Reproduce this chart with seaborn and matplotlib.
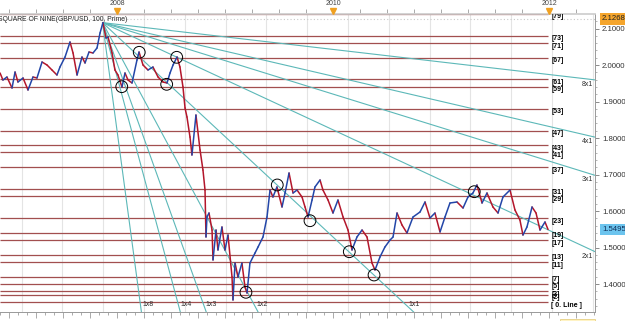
import numpy as np
import pandas as pd
import matplotlib
matplotlib.use("Agg")
import matplotlib.pyplot as plt
import matplotlib.transforms as mtransforms
from matplotlib.patches import Rectangle
import seaborn as sns

# ---------------- data ----------------
years = [2006.917, 2006.944, 2006.981, 2007.028, 2007.056, 2007.083, 2007.130, 2007.176,
         2007.222, 2007.259, 2007.306, 2007.352, 2007.398, 2007.444, 2007.472, 2007.519,
         2007.565, 2007.593, 2007.630, 2007.676, 2007.704, 2007.741, 2007.778, 2007.815,
         2007.843, 2007.870, 2007.898, 2007.917, 2007.954, 2007.981, 2008.009, 2008.046,
         2008.074, 2008.102, 2008.139, 2008.185, 2008.204, 2008.241, 2008.287, 2008.333,
         2008.380, 2008.426, 2008.463, 2008.491, 2008.519, 2008.556, 2008.583, 2008.611,
         2008.630, 2008.648, 2008.676, 2008.694, 2008.731, 2008.769, 2008.796, 2008.815,
         2008.824, 2008.833, 2008.852, 2008.880, 2008.889, 2008.917, 2008.935, 2008.972,
         2009.000, 2009.028, 2009.065, 2009.074, 2009.093, 2009.120, 2009.157, 2009.185,
         2009.204, 2009.231, 2009.278, 2009.306, 2009.352, 2009.389, 2009.417, 2009.444,
         2009.481, 2009.528, 2009.556, 2009.593, 2009.630, 2009.667, 2009.713, 2009.741,
         2009.769, 2009.806, 2009.833, 2009.880, 2009.907, 2009.954, 2010.000, 2010.046,
         2010.093, 2010.139, 2010.176, 2010.222, 2010.269, 2010.315, 2010.361, 2010.389,
         2010.435, 2010.481, 2010.528, 2010.556, 2010.593, 2010.639, 2010.685, 2010.741,
         2010.806, 2010.852, 2010.898, 2010.944, 2010.991, 2011.037, 2011.083, 2011.148,
         2011.204, 2011.250, 2011.296, 2011.333, 2011.380, 2011.426, 2011.481, 2011.528,
         2011.574, 2011.639, 2011.685, 2011.731, 2011.759, 2011.796, 2011.843, 2011.880,
         2011.917, 2011.963, 2011.991]
prices = [1.9781, 1.9589, 1.9671, 1.9370, 1.9808, 1.9534, 1.9644, 1.9315,
          1.9671, 1.9644, 2.0082, 2.0000, 1.9863, 1.9726, 1.9945, 2.0219,
          2.0630, 2.0329, 1.9726, 2.0219, 2.0055, 2.0356, 2.0329, 2.0466,
          2.0877, 2.1161, 2.0740, 2.0767, 2.0329, 1.9863, 1.9726, 1.9397,
          1.9781, 1.9589, 1.9507, 2.0137, 2.0356, 2.0000, 1.9863, 1.9945,
          1.9671, 1.9534, 1.9507, 1.9781, 2.0000, 2.0219, 1.9945, 1.9397,
          1.8822, 1.8575, 1.8027, 1.7534, 1.8630, 1.7671, 1.7123, 1.6575,
          1.5288, 1.5836, 1.5945, 1.5479, 1.4658, 1.5479, 1.4932, 1.5562,
          1.4932, 1.5342, 1.4192, 1.3562, 1.4575, 1.4192, 1.4575, 1.3918,
          1.3753, 1.4575, 1.4849, 1.5014, 1.5288, 1.5836, 1.6575, 1.6384,
          1.6658, 1.6110, 1.6493, 1.7041, 1.6493, 1.6575, 1.6384, 1.6110,
          1.5836, 1.6301, 1.6658, 1.6849, 1.6575, 1.6301, 1.5945, 1.6301,
          1.5836, 1.5479, 1.4932, 1.5288, 1.5479, 1.5288, 1.4575, 1.4384,
          1.4740, 1.5014, 1.5205, 1.5288, 1.5945, 1.5616, 1.5397, 1.5836,
          1.5973, 1.6247, 1.5808, 1.5945, 1.5425, 1.5836, 1.6219, 1.6247,
          1.6082, 1.6384, 1.6493, 1.6712, 1.6219, 1.6493, 1.6110, 1.5945,
          1.6384, 1.6575, 1.6027, 1.5753, 1.5342, 1.5562, 1.6110, 1.5945,
          1.5479, 1.5699, 1.5495]

level_numbers = [0, 2, 3, 5, 7, 11, 13, 17, 19, 23, 29, 31, 37, 41, 43, 47,
                 53, 59, 61, 67, 71, 73, 79]
level_base = 1.3503
level_step = 0.01

fan_labels = ["8x1", "4x1", "3x1", "2x1", "1x1", "1x2", "1x3", "1x4", "1x8"]
fan_ratios = [1 / 8, 1 / 4, 1 / 3, 1 / 2, 1, 2, 3, 4, 8]
fan_origin_year = 2007.866
fan_origin_price = 2.1161
fan_unit_slope = 0.2752  # price per year for the 1x1 line

circle_years = [2008.206, 2008.044, 2008.553, 2008.460, 2009.484,
                2009.787, 2010.151, 2010.380, 2009.194, 2011.308]
circle_prices = [2.0348, 1.9406, 2.0211, 1.9471, 1.6713,
                 1.5734, 1.4885, 1.4247, 1.3773, 1.6529]

axis_high = 2.1268
last_price = 1.5495
year_ticks = [2008, 2010, 2012]
price_ticks = [1.4, 1.5, 1.6, 1.7, 1.8, 1.9, 2.0, 2.1]
title = "SQUARE OF NINE(GBP/USD, 100, Prime)"

# ---------------- styling ----------------
sns.set_theme(style="white")
plt.rcParams["font.family"] = ["Liberation Sans", "DejaVu Sans"]

W, H = 625, 321
fig = plt.figure(figsize=(W / 100, H / 100), dpi=100)
ax_top_px, ax_bot_px, ax_right_px = 13.5, 312, 595
ax = fig.add_axes([0, 1 - ax_bot_px / H, ax_right_px / W, (ax_bot_px - ax_top_px) / H])
ax.set_facecolor("white")

XMIN, XMAX = 2006.9167, 2012.426
YMIN, YMAX = 1.3233, 2.1411
ax.set_xlim(XMIN, XMAX)
ax.set_ylim(YMIN, YMAX)

# vertical grid (every ~100 bars)
for gx in np.arange(2007.116, XMAX, 0.3778):
    ax.axvline(gx, color="#e4e4e4", lw=0.8, zorder=0)

# dotted line at axis high
ax.axhline(axis_high, color="#c8c8c8", lw=0.8, ls=(0, (1, 2)), zorder=0)

# square-of-nine horizontal levels
levels = [level_base + n * level_step for n in level_numbers]
ax.hlines(levels, XMIN, years[-1], colors="#a24f4f", lw=0.9, zorder=1)
lab_off = mtransforms.ScaledTranslation(2.5 / 72, 0.3 / 72, fig.dpi_scale_trans)
for n, lv in zip(level_numbers, levels):
    txt = "[ 0. Line ]" if n == 0 else f"[{n}]"
    ax.text(years[-1], lv, txt, transform=ax.transData + lab_off, ha="left", va="top",
            fontsize=5.0, fontweight="bold", color="black", clip_on=True, zorder=6)

# Gann fan
bottom_label_price = 1.3425
for lab, r in zip(fan_labels, fan_ratios):
    slope = fan_unit_slope * r
    ye = fan_origin_price - slope * (XMAX - fan_origin_year)
    ax.plot([fan_origin_year, XMAX], [fan_origin_price, ye], color="#5cb8b8", lw=0.8, zorder=2)
    if r < 1:
        off = mtransforms.ScaledTranslation(-1.2 / 72, -0.8 / 72, fig.dpi_scale_trans)
        ax.text(XMAX, ye, lab, transform=ax.transData + off, ha="right", va="top",
                fontsize=5, color="#333333", zorder=6)
    else:
        xc = fan_origin_year + (fan_origin_price - bottom_label_price) / slope
        off = mtransforms.ScaledTranslation(1.5 / 72, 0, fig.dpi_scale_trans)
        ax.text(xc, bottom_label_price, lab, transform=ax.transData + off, ha="left",
                va="center", fontsize=5, color="#333333", zorder=6)

# price line, coloured by direction (up = blue, down = red)
rows = []
for i in range(len(years) - 1):
    d = "up" if prices[i + 1] >= prices[i] else "down"
    rows.append((i, years[i], prices[i], d))
    rows.append((i, years[i + 1], prices[i + 1], d))
seg = pd.DataFrame(rows, columns=["seg", "year", "price", "dir"])
sns.lineplot(data=seg, x="year", y="price", hue="dir", units="seg", estimator=None,
             sort=False, palette={"up": "#2346a8", "down": "#b3162b"}, lw=1.1,
             legend=False, ax=ax, zorder=3)

# circles
sns.scatterplot(x=circle_years, y=circle_prices, ax=ax, s=72, marker="o",
                facecolors="none", edgecolors="black", linewidth=0.7, zorder=5,
                legend=False)

# title
ax.text(-0.004, 0.992, title, transform=ax.transAxes, ha="left", va="top",
        fontsize=4.9, color="#222222", zorder=7)

# ---------------- axes ----------------
ax.set_xlabel("")
ax.set_ylabel("")
ax.yaxis.tick_right()
ax.set_yticks(price_ticks)
ax.set_yticks(np.arange(1.34, 2.14, 0.02), minor=True)
ax.yaxis.set_major_formatter(lambda v, p: f"{v:.4f}")
ax.tick_params(axis="y", which="major", right=True, left=False, length=3, width=0.6,
               color="#777777", labelsize=5.6, labelcolor="#333333", pad=2)
ax.tick_params(axis="y", which="minor", right=True, left=False, length=1.5, width=0.5,
               color="#999999")

quarters = np.arange(2007.0, 2012.5, 0.25)
months = np.arange(2006.9167, 2012.43, 1 / 12)
ax.set_xticks(quarters)
ax.set_xticks(months, minor=True)
ax.tick_params(axis="x", which="both", bottom=True, top=False, labelbottom=False,
               direction="out", color="#888888", width=0.5)
ax.tick_params(axis="x", which="major", length=4)
ax.tick_params(axis="x", which="minor", length=2.5)

sec = ax.secondary_xaxis("top")
sec.set_xticks(year_ticks, labels=[str(y) for y in year_ticks])
sec.set_xticks(quarters, minor=True)
sec.tick_params(which="major", length=0, pad=4.5, labelsize=5, labelcolor="#444444")
sec.tick_params(which="minor", length=3, width=0.5, color="#888888", direction="out")
sec.spines["top"].set_color("#cccccc")
sec.spines["top"].set_linewidth(0.6)

ax.spines["left"].set_visible(False)
ax.spines["top"].set_color("#cccccc")
ax.spines["top"].set_linewidth(0.6)
for s in ["bottom", "right"]:
    ax.spines[s].set_color("#999999")
    ax.spines[s].set_linewidth(0.7)

# orange markers under year labels
blend = mtransforms.blended_transform_factory(ax.transData, ax.transAxes)
ax.plot(year_ticks, [1.009] * len(year_ticks), transform=blend, marker="v", ls="none",
        ms=4, color="#f0a020", clip_on=False, zorder=8)

# value boxes on the right axis
yblend = mtransforms.blended_transform_factory(ax.transAxes, ax.transData)
ax.text(1.0, axis_high, f"{axis_high:.4f}", transform=yblend + mtransforms.ScaledTranslation(5 / 72, 0, fig.dpi_scale_trans),
        ha="left", va="center", fontsize=5.6, color="#222222",
        bbox=dict(boxstyle="square,pad=0.3", fc="#f5a52c", ec="none"), clip_on=False, zorder=9)
ax.text(1.0, last_price, f"{last_price:.4f}", transform=yblend + mtransforms.ScaledTranslation(5 / 72, 0, fig.dpi_scale_trans),
        ha="left", va="center", fontsize=5.6, color="#10305a",
        bbox=dict(boxstyle="square,pad=0.3", fc="#6cc4ee", ec="none"), clip_on=False, zorder=9)

fig.patches.append(Rectangle((560 / W, 0), 35 / W, 2.5 / H, transform=fig.transFigure,
                             fc="#fff3c4", ec="#e2c870", lw=0.5))

fig.savefig("out.png", dpi=100)
